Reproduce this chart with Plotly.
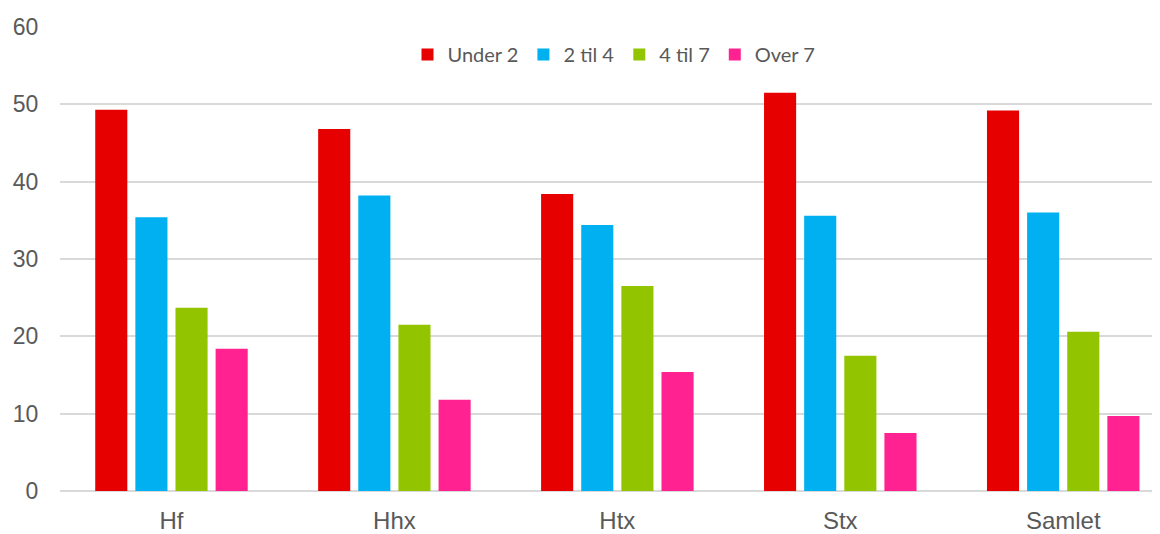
import plotly.graph_objects as go

categories = ["Hf", "Hhx", "Htx", "Stx", "Samlet"]
series_names = ["Under 2", "2 til 4", "4 til 7", "Over 7"]
under_2 = [49.3, 46.8, 38.4, 51.5, 49.2]
til_2_4 = [35.4, 38.2, 34.4, 35.6, 36.0]
til_4_7 = [23.7, 21.5, 26.5, 17.5, 20.6]
over_7 = [18.4, 11.8, 15.4, 7.5, 9.7]
colors = ["#E60000", "#00B0F0", "#92C500", "#FF2290"]

fig = go.Figure()
for name, vals, c in zip(series_names, [under_2, til_2_4, til_4_7, over_7], colors):
    fig.add_trace(go.Bar(x=categories, y=vals, name=name, marker_color=c, marker_line_width=0))

fig.update_layout(
    width=1160, height=534,
    barmode="group", bargap=0.28, bargroupgap=0.2,
    plot_bgcolor="white", paper_bgcolor="white",
    margin=dict(l=52, r=0, t=19, b=51),
    font=dict(family="Liberation Sans, Arial", color="#595959"),
    legend=dict(orientation="h", x=0.5, xanchor="center", y=0.983, yanchor="top",
                font=dict(family="Lato", size=20, color="#595959"),
                itemwidth=30, traceorder="normal"),
    xaxis=dict(range=[-0.5, 4.47], tickfont=dict(size=24), showgrid=False,
               ticks="outside", ticklen=8, tickcolor="white", showline=False),
    yaxis=dict(range=[0, 60], dtick=10, tickfont=dict(size=23), gridcolor="#D9D9D9",
               gridwidth=1.5, zeroline=True, zerolinecolor="#D9D9D9", zerolinewidth=1.5,
               ticks="outside", ticklen=16, tickcolor="white"),
)
fig.write_html("out.html")
